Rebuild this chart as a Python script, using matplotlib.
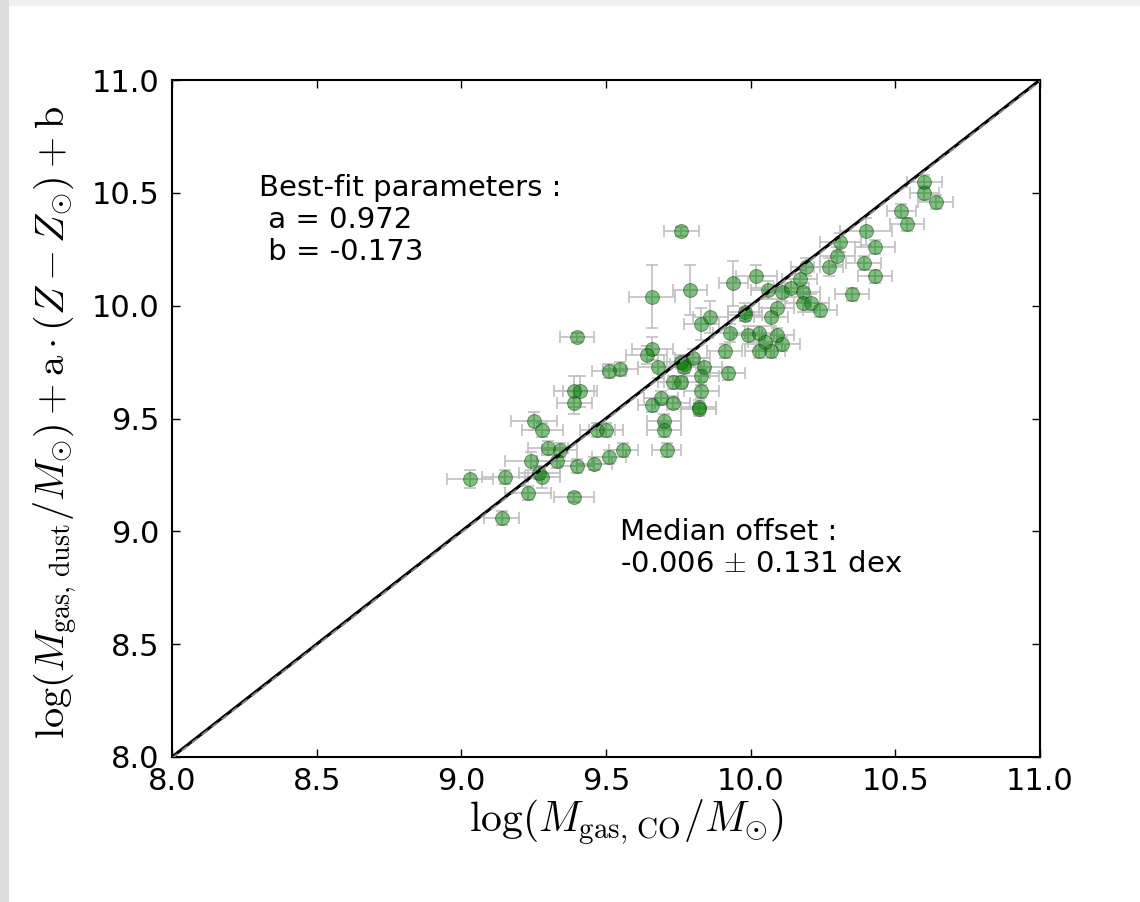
import numpy as np
import matplotlib
matplotlib.use('Agg')
import matplotlib.pyplot as plt
from matplotlib.patches import Rectangle

plt.rcParams['mathtext.fontset'] = 'cm'
plt.rcParams['font.family'] = 'DejaVu Sans'

# values
m_co = [9.03, 9.15, 9.14, 9.23, 9.24, 9.27, 9.28, 9.30, 9.34, 9.33,
        9.39, 9.40, 9.46, 9.51, 9.56, 9.25, 9.28, 9.47, 9.50, 9.39,
        9.41, 9.39, 9.51, 9.55, 9.40, 9.66, 9.79, 9.83, 9.86, 9.66,
        9.64, 9.68, 9.77, 9.80, 9.84, 9.76, 9.94, 10.02, 10.06, 10.11,
        10.14, 10.17, 10.19, 10.18, 10.18, 10.21, 10.24, 10.27, 10.30, 10.31,
        9.98, 9.98, 10.07, 10.09, 9.93, 9.99, 10.03, 10.05, 10.09, 10.11,
        10.07, 10.03, 9.91, 10.60, 10.60, 10.64, 10.52, 10.54, 10.40, 10.43,
        10.39, 10.43, 10.35, 9.76, 9.77, 9.83, 9.92, 9.73, 9.76, 9.83,
        9.69, 9.66, 9.73, 9.82, 9.82, 9.70, 9.70, 9.71]
m_dust = [9.23, 9.24, 9.06, 9.17, 9.31, 9.26, 9.24, 9.37, 9.36, 9.31,
          9.15, 9.29, 9.30, 9.33, 9.36, 9.49, 9.45, 9.45, 9.45, 9.62,
          9.62, 9.57, 9.71, 9.72, 9.86, 10.04, 10.07, 9.92, 9.95, 9.81,
          9.78, 9.73, 9.74, 9.77, 9.73, 10.33, 10.10, 10.13, 10.07, 10.06,
          10.08, 10.12, 10.17, 10.06, 10.01, 10.01, 9.98, 10.17, 10.22, 10.28,
          9.97, 9.96, 9.95, 9.99, 9.88, 9.87, 9.88, 9.84, 9.87, 9.83,
          9.80, 9.80, 9.80, 10.55, 10.50, 10.46, 10.42, 10.36, 10.33, 10.26,
          10.19, 10.13, 10.05, 9.75, 9.73, 9.69, 9.70, 9.66, 9.66, 9.62,
          9.59, 9.56, 9.57, 9.55, 9.54, 9.49, 9.45, 9.36]
err_co = [0.08, 0.08, 0.06, 0.08, 0.09, 0.07, 0.06, 0.07, 0.06, 0.07,
          0.07, 0.06, 0.06, 0.06, 0.05, 0.08, 0.07, 0.06, 0.06, 0.07,
          0.06, 0.06, 0.06, 0.06, 0.06, 0.08, 0.06, 0.06, 0.06, 0.07,
          0.07, 0.07, 0.05, 0.06, 0.06, 0.06, 0.05, 0.07, 0.06, 0.06,
          0.06, 0.06, 0.05, 0.06, 0.06, 0.06, 0.06, 0.05, 0.06, 0.07,
          0.06, 0.06, 0.06, 0.06, 0.06, 0.05, 0.05, 0.06, 0.06, 0.06,
          0.05, 0.05, 0.06, 0.06, 0.05, 0.06, 0.05, 0.06, 0.09, 0.07,
          0.06, 0.06, 0.06, 0.06, 0.06, 0.06, 0.06, 0.05, 0.06, 0.06,
          0.06, 0.05, 0.06, 0.06, 0.06, 0.06, 0.06, 0.05]
err_dust = [0.04, 0.03, 0.03, 0.03, 0.04, 0.03, 0.05, 0.03, 0.03, 0.03,
            0.02, 0.03, 0.03, 0.03, 0.03, 0.04, 0.03, 0.03, 0.03, 0.07,
            0.07, 0.05, 0.03, 0.03, 0.02, 0.14, 0.11, 0.07, 0.07, 0.05,
            0.04, 0.05, 0.04, 0.04, 0.04, 0.02, 0.10, 0.05, 0.04, 0.04,
            0.04, 0.04, 0.04, 0.04, 0.04, 0.04, 0.03, 0.04, 0.04, 0.04,
            0.04, 0.03, 0.04, 0.04, 0.04, 0.04, 0.03, 0.03, 0.03, 0.03,
            0.03, 0.03, 0.03, 0.03, 0.03, 0.03, 0.03, 0.03, 0.06, 0.03,
            0.03, 0.03, 0.03, 0.03, 0.03, 0.03, 0.03, 0.03, 0.03, 0.03,
            0.03, 0.03, 0.03, 0.03, 0.03, 0.03, 0.03, 0.03]

one_to_one = [8.0, 11.0]
median_offset = -0.006
best_fit_text = 'Best-fit parameters :\n a = 0.972\n b = -0.173'
offset_text = 'Median offset :\n-0.006 $\\pm$ 0.131 dex'
ticks = [8.0, 8.5, 9.0, 9.5, 10.0, 10.5, 11.0]

fig = plt.figure(figsize=(11.4, 9.02), dpi=100)
# screenshot frame
fig.patches.append(Rectangle((0, 0), 1, 1, transform=fig.transFigure,
                             facecolor='#efefef', edgecolor='none', zorder=-3))
fig.patches.append(Rectangle((9/1140., 0), 1, 1 - 6/902., transform=fig.transFigure,
                             facecolor='white', edgecolor='none', zorder=-2))
fig.patches.append(Rectangle((0, 0), 9/1140., 1, transform=fig.transFigure,
                             facecolor='#dcdcdc', edgecolor='none', zorder=-2))

ax = fig.add_axes([172/1140., 1 - 757/902., (1040-172)/1140., (757-80)/902.])

ax.errorbar(m_co, m_dust, xerr=err_co, yerr=err_dust, fmt='none',
            ecolor='#c0c0c0', elinewidth=1.2, capsize=4, capthick=1.2, zorder=1)
ax.plot(m_co, m_dust, 'o', color='green', mec='#1a3a1a', mew=0.7,
        ms=10, alpha=0.5, zorder=2)

ax.plot(one_to_one, one_to_one, '-', color='black', lw=2.2, zorder=3)
ax.plot(one_to_one, [v + median_offset for v in one_to_one], '--',
        color='#8a8a8a', lw=1.3, dashes=(4, 3), zorder=4)

ax.text(8.3, 10.585, best_fit_text, fontsize=21, va='top', ha='left',
        linespacing=1.2)
ax.text(9.55, 9.06, offset_text, fontsize=21, va='top', ha='left',
        linespacing=1.2)

ax.set_xlim(8.0, 11.0)
ax.set_ylim(8.0, 11.0)
ax.set_xticks(ticks)
ax.set_yticks(ticks)
ax.tick_params(direction='in', top=True, right=True, labelsize=22,
               length=6, width=1)
ax.tick_params(axis='x', pad=7)
ax.tick_params(axis='y', pad=9)
for sp in ax.spines.values():
    sp.set_linewidth(1.5)

ax.set_xlabel(r'$\log(M_{\rm gas,\,CO}/M_{\odot})$', fontsize=30)
ax.xaxis.set_label_coords(0.524, -0.06)
ax.set_ylabel(r'$\log(M_{\rm gas,\,dust}/M_{\odot}) + {\rm a}\cdot(Z - Z_{\odot}) + {\rm b}$',
              fontsize=29)
ax.yaxis.set_label_coords(-0.106, 0.494)

fig.savefig('out.png', dpi=100)
